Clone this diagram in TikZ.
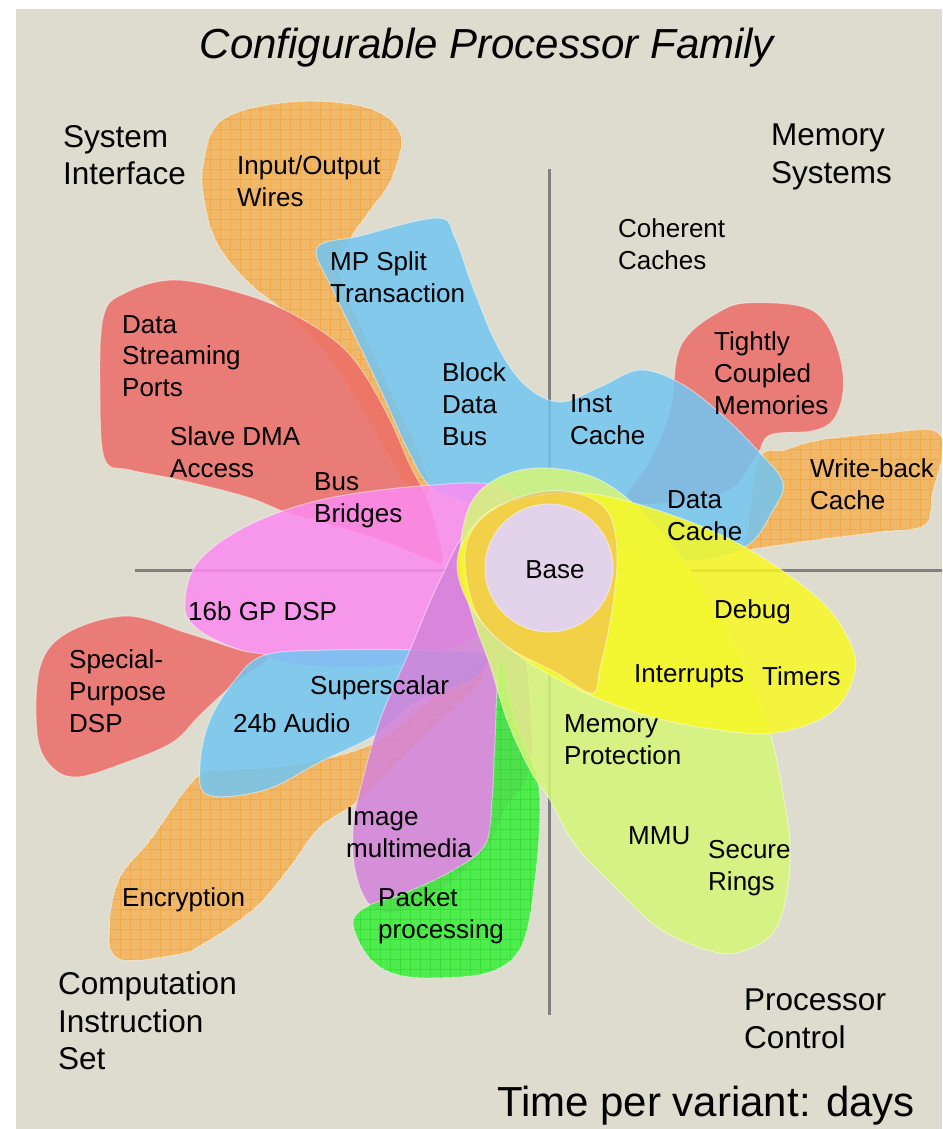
\documentclass[tikz,border=0pt]{standalone}
\usepackage{fontspec}
\setmainfont{Liberation Sans}
\usetikzlibrary{patterns.meta}
\definecolor{bg}{HTML}{DEDCCF}
\definecolor{axisc}{HTML}{808080}
\definecolor{ora}{HTML}{F2B25A}
\definecolor{oragrid}{HTML}{F89A18}
\definecolor{blu}{HTML}{72C6F2}
\definecolor{redb}{HTML}{EC6C68}
\definecolor{pnk}{HTML}{FC8CF2}
\definecolor{mag}{HTML}{D482DA}
\definecolor{grn}{HTML}{38EE38}
\definecolor{grngrid}{HTML}{18D818}
\definecolor{yel}{HTML}{F8F824}
\definecolor{ygr}{HTML}{D6F678}
\definecolor{basec}{HTML}{E2D4F4}
\tikzset{
  blob/.style={fill=#1, fill opacity=0.85, draw=white, draw opacity=0.45, line width=1pt},
  meshed/.style={postaction={pattern={Hatch[distance=10pt, angle=0, line width=0.6pt]}, pattern color=#1, fill opacity=0.5}},
  axisline/.style={draw=axisc, line width=3pt},
  lbl/.style={font=\fontsize{26}{31.8}\selectfont, align=left, anchor=west, inner sep=0pt},
  quad/.style={font=\fontsize{31.5}{37.5}\selectfont, align=left, anchor=west, inner sep=0pt},
  big/.style={font=\fontsize{42}{48}\selectfont, inner sep=0pt},
}
\begin{document}
\begin{tikzpicture}[x=1pt,y=-1pt]
\useasboundingbox (0,0) rectangle (942,1129);
\fill[bg] (16,9) rectangle (942,1129);
% quadrant axes
\draw[axisline] (549,169) -- (549,1015);
\draw[axisline] (135,570) -- (942,570);

% system interface petals
\path[blob=ora, meshed=oragrid] plot[smooth cycle, tension=0.6] coordinates {(203,165) (222,120) (290,102) (365,107) (400,133) (392,178) (368,213) (350,240) (340,275) (365,335) (395,400) (420,455) (430,492) (405,483) (375,432) (345,382) (318,345) (285,312) (248,282) (218,245) (205,205)};
\path[blob=redb] plot[smooth cycle, tension=0.6] coordinates {(103,318) (125,293) (177,280) (250,296) (300,318) (340,345) (365,375) (390,420) (410,465) (430,505) (443,560) (430,560) (380,540) (320,522) (287,513) (247,497) (180,480) (130,470) (105,460) (100,400)};
% memory systems petals
\path[blob=redb] plot[smooth cycle, tension=0.6] coordinates {(677,357) (690,333) (717,313) (745,303) (800,306) (825,322) (840,357) (843,392) (833,420) (812,431) (770,435) (757,455) (730,490) (680,502) (627,500) (650,460) (670,410)};
\path[blob=ora, meshed=oragrid] plot[smooth cycle, tension=0.6] coordinates {(742,545) (758,460) (785,450) (820,440) (885,433) (935,431) (942,455) (932,495) (925,525) (880,532) (815,540) (760,548) (700,556) (705,530)};
\path[blob=blu] plot[smooth cycle, tension=0.6] coordinates {(317,248) (360,236) (437,218) (455,238) (472,285) (497,345) (525,385) (560,402) (600,387) (640,370) (680,383) (720,413) (760,453) (783,483) (772,512) (748,545) (700,560) (620,555) (545,530) (475,505) (432,488) (408,450) (383,395) (357,340) (333,290)};
% computation petals
\path[blob=pnk] plot[smooth cycle, tension=0.6] coordinates {(185,600) (198,562) (245,527) (320,500) (420,486) (500,486) (525,520) (520,570) (495,620) (445,652) (380,667) (300,665) (232,647) (193,625)};
\path[blob=redb] plot[smooth cycle, tension=0.6] coordinates {(37,733) (40,667) (67,633) (127,616) (187,633) (240,650) (268,658) (235,683) (200,715) (173,742) (127,762) (77,777) (50,765)};
\path[blob=ora, meshed=oragrid] plot[smooth cycle, tension=0.6] coordinates {(117,958) (110,920) (120,877) (150,840) (197,777) (230,770) (290,765) (370,745) (430,700) (485,655) (478,685) (420,740) (362,798) (320,827) (290,867) (255,908) (205,943) (175,955)};
\path[blob=blu] plot[smooth cycle, tension=0.6] coordinates {(265,655) (330,650) (420,650) (485,655) (472,680) (420,700) (375,735) (320,762) (265,790) (208,795) (200,765) (210,720) (235,680)};
\path[blob=mag] plot[smooth cycle, tension=0.6] coordinates {(470,530) (500,560) (520,620) (530,700) (530,770) (505,810) (485,850) (440,890) (400,912) (370,905) (355,870) (353,827) (360,790) (380,720) (410,650) (440,580)};
\path[blob=grn, meshed=grngrid] plot[smooth cycle, tension=0.6] coordinates {(500,660) (515,720) (535,770) (540,810) (535,880) (522,945) (490,972) (430,978) (392,973) (367,955) (353,922) (370,905) (400,895) (450,872) (485,845) (492,800) (495,740)};
% processor control petals
\path[blob=ygr] plot[smooth cycle, tension=0.6] coordinates {(545,468) (600,480) (650,520) (700,585) (742,660) (770,733) (783,793) (790,843) (787,893) (773,933) (740,952) (707,950) (657,927) (610,882) (575,845) (550,800) (530,770) (507,720) (490,665) (472,615) (460,560) (470,505) (500,477)};
\path[blob=yel] plot[smooth cycle, tension=0.6] coordinates {(458,555) (488,512) (540,495) (600,495) (680,518) (750,550) (818,598) (848,638) (855,672) (832,712) (775,733) (705,728) (635,712) (565,683) (505,645) (468,602)};
\path[blob=ora, fill opacity=0.55] plot[smooth cycle, tension=0.6] coordinates {(465,555) (480,520) (520,497) (565,491) (605,508) (617,550) (612,610) (600,668) (592,693) (555,672) (505,645) (475,610)};
% base core
\path[blob=basec, fill opacity=0.95] (549,568) circle[radius=64];

% title and quadrant names
\node[big, font=\fontsize{42}{48}\selectfont\itshape] (title) at (487,48) {Configurable Processor Family};
\node[quad] (sysif) at (63,155) {System\\Interface};
\node[quad] (memsys) at (771,157) {Memory\\Systems};
\node[quad] (compis) at (58,1021) {Computation\\Instruction\\Set};
\node[quad] (procctl) at (744,1019) {Processor\\Control};
\node[big, anchor=west] (time) at (497,1106) {Time per variant: days};

% option labels
\node[lbl] (io) at (237,181) {Input/Output\\Wires};
\node[lbl] (mpsplit) at (330,277) {MP Split\\Transaction};
\node[lbl] (coh) at (618,244) {Coherent\\Caches};
\node[lbl] (dsp) at (122,356) {Data\\Streaming\\Ports};
\node[lbl] (bdb) at (442,404) {Block\\Data\\Bus};
\node[lbl] (tcm) at (714,373) {Tightly\\Coupled\\Memories};
\node[lbl] (icache) at (570,420) {Inst\\Cache};
\node[lbl] (sdma) at (170,452) {Slave DMA\\Access};
\node[lbl] (wb) at (810,484) {Write-back\\Cache};
\node[lbl] (bbr) at (314,500) {Bus\\Bridges};
\node[lbl] (dcache) at (667,516) {Data\\Cache};
\node[lbl, anchor=center] (base) at (555,570) {Base};
\node[lbl] (gpdsp) at (188,611) {16b GP DSP};
\node[lbl] (debug) at (714,612) {Debug};
\node[lbl] (spdsp) at (69,691) {Special-\\Purpose\\DSP};
\node[lbl] (intr) at (634,676) {Interrupts};
\node[lbl] (timers) at (762,676) {Timers};
\node[lbl] (ssc) at (310,688) {Superscalar};
\node[lbl] (audio) at (233,723) {24b Audio};
\node[lbl] (memprot) at (564,740) {Memory\\Protection};
\node[lbl] (img) at (346,833) {Image\\multimedia};
\node[lbl] (mmu) at (628,836) {MMU};
\node[lbl] (secure) at (708,868) {Secure\\Rings};
\node[lbl] (enc) at (122,900) {Encryption};
\node[lbl] (pkt) at (378,916) {Packet\\processing};
\end{tikzpicture}
\end{document}
